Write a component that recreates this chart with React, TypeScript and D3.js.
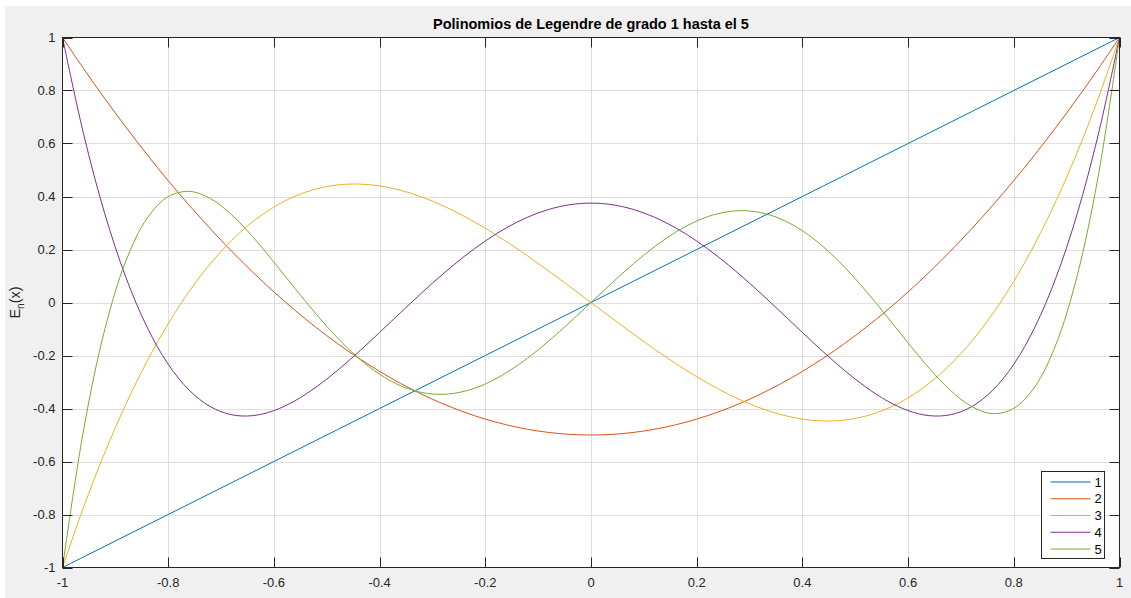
import React, { useRef, useEffect } from "react";
import * as d3 from "d3";

// sample points
const xValues = [
  -1, -0.96, -0.92, -0.88, -0.84, -0.8, -0.76, -0.72, -0.68, -0.64, -0.6, -0.56, -0.52, -0.48, -0.44, -0.4, -0.36,
  -0.32, -0.28, -0.24, -0.2, -0.16, -0.12, -0.08, -0.04, 0, 0.04, 0.08, 0.12, 0.16, 0.2, 0.24, 0.28, 0.32, 0.36, 0.4,
  0.44, 0.48, 0.52, 0.56, 0.6, 0.64, 0.68, 0.72, 0.76, 0.8, 0.84, 0.88, 0.92, 0.96, 1,
];

const p1 = [
  -1, -0.96, -0.92, -0.88, -0.84, -0.8, -0.76, -0.72, -0.68, -0.64, -0.6, -0.56, -0.52, -0.48, -0.44, -0.4, -0.36,
  -0.32, -0.28, -0.24, -0.2, -0.16, -0.12, -0.08, -0.04, 0, 0.04, 0.08, 0.12, 0.16, 0.2, 0.24, 0.28, 0.32, 0.36, 0.4,
  0.44, 0.48, 0.52, 0.56, 0.6, 0.64, 0.68, 0.72, 0.76, 0.8, 0.84, 0.88, 0.92, 0.96, 1,
];

const p2 = [
  1, 0.8824, 0.7696, 0.6616, 0.5584, 0.46, 0.3664, 0.2776, 0.1936, 0.1144, 0.04, -0.0296, -0.0944, -0.1544, -0.2096,
  -0.26, -0.3056, -0.3464, -0.3824, -0.4136, -0.44, -0.4616, -0.4784, -0.4904, -0.4976, -0.5, -0.4976, -0.4904,
  -0.4784, -0.4616, -0.44, -0.4136, -0.3824, -0.3464, -0.3056, -0.26, -0.2096, -0.1544, -0.0944, -0.0296, 0.04,
  0.1144, 0.1936, 0.2776, 0.3664, 0.46, 0.5584, 0.6616, 0.7696, 0.8824, 1,
];

const p3 = [
  -1, -0.7718, -0.5667, -0.3837, -0.2218, -0.08, 0.0426, 0.1469, 0.2339, 0.3046, 0.36, 0.401, 0.4285, 0.4435, 0.447,
  0.44, 0.4234, 0.3981, 0.3651, 0.3254, 0.28, 0.2298, 0.1757, 0.1187, 0.0598, 0, -0.0598, -0.1187, -0.1757, -0.2298,
  -0.28, -0.3254, -0.3651, -0.3981, -0.4234, -0.44, -0.447, -0.4435, -0.4285, -0.401, -0.36, -0.3046, -0.2339,
  -0.1469, -0.0426, 0.08, 0.2218, 0.3837, 0.5667, 0.7718, 1,
];

const p4 = [
  1, 0.6349, 0.3352, 0.0947, -0.0928, -0.233, -0.3314, -0.3933, -0.4236, -0.427, -0.408, -0.3707, -0.3191, -0.2568,
  -0.187, -0.113, -0.0375, 0.0369, 0.1079, 0.1735, 0.232, 0.2819, 0.3219, 0.3512, 0.369, 0.375, 0.369, 0.3512,
  0.3219, 0.2819, 0.232, 0.1735, 0.1079, 0.0369, -0.0375, -0.113, -0.187, -0.2568, -0.3191, -0.3707, -0.408, -0.427,
  -0.4236, -0.3933, -0.3314, -0.233, -0.0928, 0.0947, 0.3352, 0.6349, 1,
];

const p5 = [
  -1, -0.4796, -0.1018, 0.157, 0.3177, 0.3995, 0.4193, 0.3922, 0.3313, 0.2482, 0.1526, 0.0529, -0.0441, -0.133,
  -0.2095, -0.2706, -0.3144, -0.3397, -0.3465, -0.3353, -0.3075, -0.265, -0.2101, -0.1455, -0.0744, 0, 0.0744,
  0.1455, 0.2101, 0.265, 0.3075, 0.3353, 0.3465, 0.3397, 0.3144, 0.2706, 0.2095, 0.133, 0.0441, -0.0529, -0.1526,
  -0.2482, -0.3313, -0.3922, -0.4193, -0.3995, -0.3177, -0.157, 0.1018, 0.4796, 1,
];

const seriesNames = ["1", "2", "3", "4", "5"];
const seriesValues = [p1, p2, p3, p4, p5];
const xTicks = [-1, -0.8, -0.6, -0.4, -0.2, 0, 0.2, 0.4, 0.6, 0.8, 1];
const yTicks = [-1, -0.8, -0.6, -0.4, -0.2, 0, 0.2, 0.4, 0.6, 0.8, 1];

const colors = ["#0072BD", "#D95319", "#EDB120", "#7E2F8E", "#77AC30"];
const font = "'Liberation Sans', Arial, Helvetica, sans-serif";
const axisColor = "#262626";

const LegendreChart = () => {
  const chartRef = useRef<SVGSVGElement>(null);

  useEffect(() => {
    const svg = d3.select(chartRef.current);
    svg.selectAll("*").remove();

    const width = 1131;
    const height = 598;
    const left = 62.5;
    const right = 1119.5;
    const top = 37.5;
    const bottom = 567.5;

    svg.attr("width", width).attr("height", height);

    // figure background
    svg.append("rect").attr("width", width).attr("height", height).attr("fill", "#ffffff");
    svg
      .append("rect")
      .attr("x", 5)
      .attr("y", 6)
      .attr("width", width - 5)
      .attr("height", height - 6)
      .attr("fill", "#f0f0f0");

    const x = d3.scaleLinear().domain([-1, 1]).range([left, right]);
    const y = d3.scaleLinear().domain([-1, 1]).range([bottom, top]);

    svg
      .append("rect")
      .attr("x", left)
      .attr("y", top)
      .attr("width", right - left)
      .attr("height", bottom - top)
      .attr("fill", "#ffffff");

    // grid
    const grid = svg.append("g");
    grid
      .selectAll("line.gx")
      .data(xTicks.slice(1, -1))
      .enter()
      .append("line")
      .attr("x1", (d) => Math.round(x(d)) + 0.5)
      .attr("x2", (d) => Math.round(x(d)) + 0.5)
      .attr("y1", top)
      .attr("y2", bottom)
      .attr("stroke", "#dfdfdf")
      .attr("stroke-width", 1);
    grid
      .selectAll("line.gy")
      .data(yTicks.slice(1, -1))
      .enter()
      .append("line")
      .attr("x1", left)
      .attr("x2", right)
      .attr("y1", (d) => Math.round(y(d)) + 0.5)
      .attr("y2", (d) => Math.round(y(d)) + 0.5)
      .attr("stroke", "#dfdfdf")
      .attr("stroke-width", 1);

    // curves
    const line = d3
      .line<number>()
      .x((_, i) => x(xValues[i]))
      .y((d) => y(d))
      .curve(d3.curveCatmullRom.alpha(0.5));

    const plot = svg.append("g");
    seriesValues.forEach((vals, k) => {
      plot
        .append("path")
        .datum(vals)
        .attr("d", line)
        .attr("fill", "none")
        .attr("stroke", colors[k])
        .attr("stroke-width", 1);
    });

    // box + ticks
    const box = svg.append("g");
    box
      .append("rect")
      .attr("x", left)
      .attr("y", top)
      .attr("width", right - left)
      .attr("height", bottom - top)
      .attr("fill", "none")
      .attr("stroke", axisColor)
      .attr("stroke-width", 1);

    const tickLen = 10;
    xTicks.forEach((t) => {
      const px = Math.round(x(t)) + 0.5;
      box.append("line").attr("x1", px).attr("x2", px).attr("y1", bottom).attr("y2", bottom - tickLen).attr("stroke", axisColor);
      box.append("line").attr("x1", px).attr("x2", px).attr("y1", top).attr("y2", top + tickLen).attr("stroke", axisColor);
    });
    yTicks.forEach((t) => {
      const py = Math.round(y(t)) + 0.5;
      box.append("line").attr("x1", left).attr("x2", left + tickLen).attr("y1", py).attr("y2", py).attr("stroke", axisColor);
      box.append("line").attr("x1", right).attr("x2", right - tickLen).attr("y1", py).attr("y2", py).attr("stroke", axisColor);
    });

    // tick labels (plain hyphen minus, as in the figure)
    svg
      .append("g")
      .selectAll("text")
      .data(xTicks)
      .enter()
      .append("text")
      .attr("x", (d) => x(d))
      .attr("y", bottom + 19)
      .attr("text-anchor", "middle")
      .style("font-family", font)
      .style("font-size", "13px")
      .style("fill", axisColor)
      .text((d) => String(d));

    svg
      .append("g")
      .selectAll("text")
      .data(yTicks)
      .enter()
      .append("text")
      .attr("x", left - 7)
      .attr("y", (d) => y(d) + 4.5)
      .attr("text-anchor", "end")
      .style("font-family", font)
      .style("font-size", "13px")
      .style("fill", axisColor)
      .text((d) => String(d));

    // title
    svg
      .append("text")
      .attr("x", (left + right) / 2)
      .attr("y", 29)
      .attr("text-anchor", "middle")
      .style("font-family", font)
      .style("font-size", "14.5px")
      .style("font-weight", "bold")
      .style("fill", "#000")
      .text("Polinomios de Legendre de grado 1 hasta el 5");

    // y label
    const yl = svg
      .append("text")
      .attr("transform", `translate(20,${(top + bottom) / 2}) rotate(-90)`)
      .attr("text-anchor", "middle")
      .style("font-family", font)
      .style("font-size", "14.5px")
      .style("fill", axisColor);
    yl.append("tspan").text("E");
    yl.append("tspan").attr("dy", 4).style("font-size", "10px").text("n");
    yl.append("tspan").attr("dy", -4).text("(x)");

    // legend
    const lg = svg.append("g").attr("transform", "translate(1041.5,471.5)");
    lg.append("rect")
      .attr("width", 63)
      .attr("height", 87)
      .attr("fill", "#ffffff")
      .attr("stroke", axisColor)
      .attr("stroke-width", 1);
    seriesNames.forEach((name, i) => {
      const ly = 10.5 + i * 16.75;
      lg.append("line")
        .attr("x1", 9)
        .attr("x2", 49)
        .attr("y1", ly)
        .attr("y2", ly)
        .attr("stroke", colors[i])
        .attr("stroke-width", 1);
      lg.append("text")
        .attr("x", 53)
        .attr("y", ly + 4.5)
        .style("font-family", font)
        .style("font-size", "13px")
        .style("fill", "#000")
        .text(name);
    });
  }, []);

  return <svg ref={chartRef} style={{ display: "block" }}></svg>;
};

export default function App() {
  return (
    <div style={{ position: "fixed", left: 0, top: 0 }}>
      <LegendreChart />
    </div>
  );
}
